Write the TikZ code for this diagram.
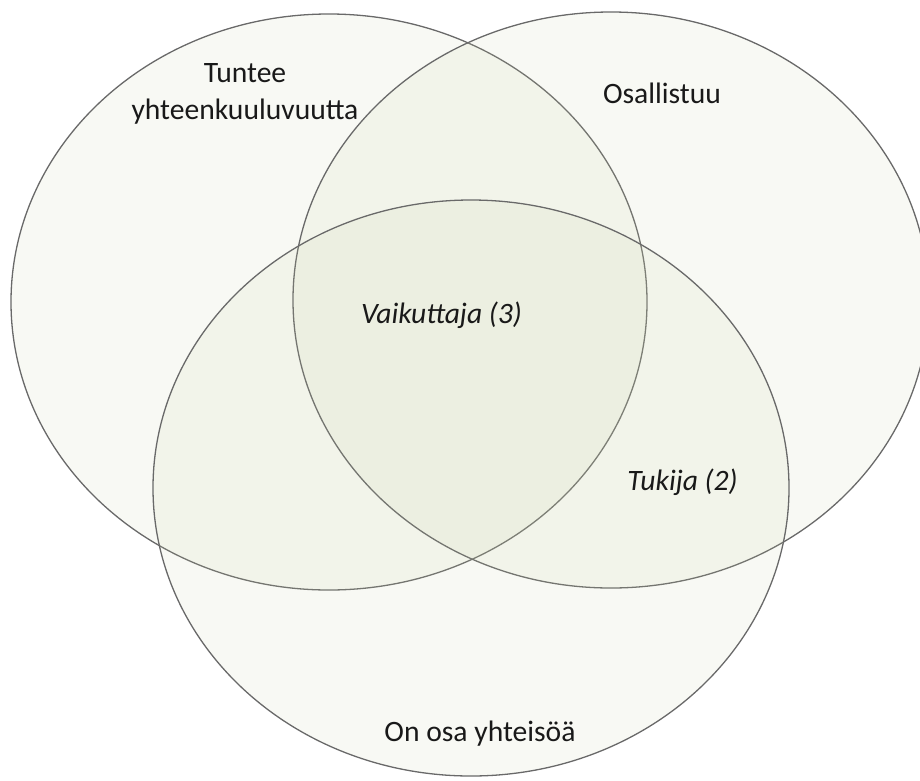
\documentclass[tikz,border=0pt]{standalone}
\usepackage{fontspec}
\setmainfont{Carlito}
\usetikzlibrary{shapes.geometric}
\definecolor{vennfill}{RGB}{197,205,163}
\definecolor{vennline}{RGB}{105,105,105}
\definecolor{venntext}{RGB}{25,25,25}
\begin{document}
\begin{tikzpicture}[x=1pt,y=-1pt,
  setshape/.style={ellipse, draw=vennline, line width=1.3pt, fill=vennfill, fill opacity=0.12,
    minimum width=636pt, minimum height=576pt, inner sep=0pt},
  lab/.style={text=venntext, inner sep=0pt, anchor=base, font=\fontsize{29.6}{36.3}\selectfont},
  ilab/.style={lab, font=\fontsize{29.6}{36.3}\selectfont\itshape}]
\useasboundingbox (0,0) rectangle (920,780);
\node[setshape] (left) at (329,302) {};
\node[setshape] (right) at (611,300) {};
\node[setshape] (bottom) at (471,488) {};
\node[lab, align=center] (tuntee) at (245,119) {Tuntee\\yhteenkuuluvuutta};
\node[lab] (osallistuu) at (662,103.3) {Osallistuu};
\node[ilab] (vaikuttaja) at (441.5,323) {Vaikuttaja (3)};
\node[ilab] (tukija) at (682.5,490) {Tukija (2)};
\node[lab] (onosa) at (480,741.7) {On osa yhteisöä};
\end{tikzpicture}
\end{document}
